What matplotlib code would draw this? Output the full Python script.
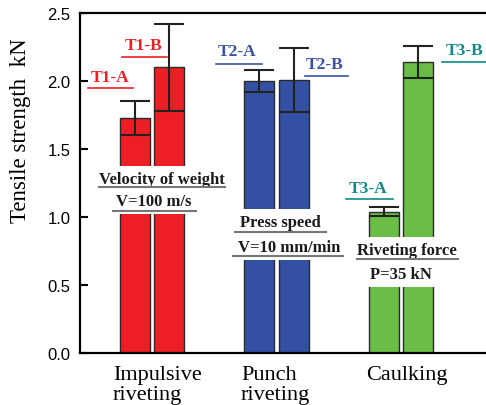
import matplotlib
matplotlib.use("Agg")
import matplotlib.pyplot as plt
import numpy as np

# ---- data ----
groups = ["Impulsive\nriveting", "Punch\nriveting", "Caulking"]
series_labels = ["T1-A", "T1-B", "T2-A", "T2-B", "T3-A", "T3-B"]
means = [1.73, 2.10, 2.00, 2.01, 1.04, 2.14]
errors = [0.125, 0.32, 0.08, 0.235, 0.035, 0.115]
group_of = [0, 0, 1, 1, 2, 2]
side = [-1, 1, -1, 1, -1, 1]
bar_colors = ["#ee1f24", "#ee1f24", "#3450a4", "#3450a4", "#6abd45", "#6abd45"]
label_colors = ["#ee1f24", "#ee1f24", "#3b52a3", "#3b52a3", "#108a86", "#108a86"]
yticks = [0.0, 0.5, 1.0, 1.5, 2.0, 2.5]
ylabel = "Tensile strength  kN"
cond_texts = [["Velocity of weight", "V=100 m/s"],
              ["Press speed", "V=10 mm/min"],
              ["Riveting force", "P=35 kN"]]

W, H = 486, 406
fig = plt.figure(figsize=(W / 100, H / 100), dpi=100)
ax = fig.add_axes([80 / W, 52 / H, 406 / W, 340 / H])

def F(x, y):
    return (x / W, 1 - y / H)

serif = "Liberation Serif"
sans = "Liberation Sans"

offset = 0.139
width = 0.241
xs = [group_of[i] + side[i] * offset for i in range(len(means))]
ax.bar(xs, means, width=width, color=bar_colors, edgecolor="#2a2a2a", linewidth=1.0, zorder=2)
ax.errorbar(xs, means, yerr=errors, fmt="none", ecolor="#222222", elinewidth=1.5,
            capsize=10.8, capthick=1.5, zorder=3)

ax.set_xlim(-0.578, 2.683)
ax.set_ylim(0, 2.5)
ax.set_yticks(yticks)
ax.set_yticklabels([f"{v:.1f}" for v in yticks], fontfamily=sans, fontsize=12)
ax.set_xticks([])
ax.tick_params(axis="y", direction="in", length=6, width=1.5, pad=7)
for s in ["left", "bottom", "top"]:
    ax.spines[s].set_linewidth(1.6)
ax.spines["right"].set_visible(False)

ax.set_ylabel(ylabel, fontfamily=serif, fontsize=16.5)
ax.yaxis.set_label_coords(-0.121, 0.656)

# category labels (left aligned under groups)
cat_x = [113, 241, 366]
for g, lab in enumerate(groups):
    fig.text(*F(cat_x[g], 366), lab, fontfamily=serif, fontsize=16, ha="left",
             va="top", linespacing=1.05)

# series labels with underlines
lab_pos = [(110, 78), (144, 46), (237, 52), (325, 65), (368, 189), (465, 51)]
ul_pos = [(88, 133, 89), (122, 167, 58), (216, 262, 65), (305, 348, 77), (346, 393, 200), (442, 486, 63)]
for i, lab in enumerate(series_labels):
    fig.text(*F(*lab_pos[i]), lab, fontfamily=serif, fontweight="bold", fontsize=12.5,
             color=label_colors[i], ha="center", va="center")
    x0, x1, yy = ul_pos[i]
    fig.add_artist(plt.Line2D([x0 / W, x1 / W], [1 - yy / H, 1 - yy / H],
                              transform=fig.transFigure, color=label_colors[i], lw=1.2))

# condition annotations
cond_pos = [[(162, 180), (154, 202)], [(280, 223), (289, 248)], [(407, 251), (401, 275)]]
cond_ul = [[(99, 225, 188), (113, 196, 212)], [(235, 326, 233), (233, 343, 257)],
           [(357, 458, 260), None]]
for g in range(3):
    for k in range(2):
        fig.text(*F(*cond_pos[g][k]), cond_texts[g][k], fontfamily=serif, fontweight="bold",
                 fontsize=12, color="#1a1a1a", ha="center", va="center", zorder=5,
                 bbox=dict(facecolor="white", edgecolor="none", boxstyle="square,pad=0.3"))
        u = cond_ul[g][k]
        if u is not None:
            x0, x1, yy = u
            fig.add_artist(plt.Line2D([x0 / W, x1 / W], [1 - yy / H, 1 - yy / H],
                                      transform=fig.transFigure, color="#777777", lw=1.5,
                                      zorder=6))

fig.savefig("out.png", dpi=100)
